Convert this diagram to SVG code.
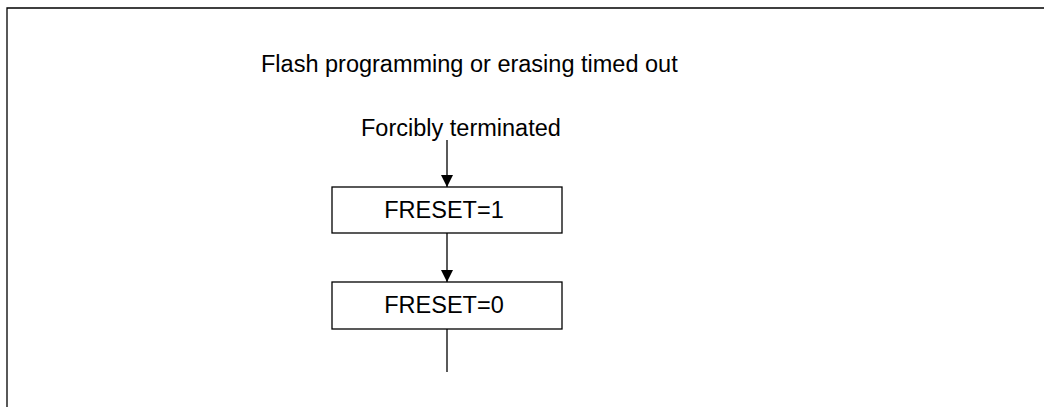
<svg xmlns="http://www.w3.org/2000/svg" width="1044" height="407" viewBox="0 0 1044 407">
<defs>
<style>
text{font-family:"Liberation Sans",Arial,sans-serif;font-size:23.5px;fill:#000}
.box{fill:#fff;stroke:#000;stroke-width:1.3}
.ln{stroke:#000;stroke-width:1.3;fill:none}
</style>
<marker id="ah" viewBox="0 0 12 12" refX="12" refY="6" markerWidth="12" markerHeight="12" markerUnits="userSpaceOnUse" orient="auto">
<path d="M0,0 L12,6 L0,12 Z" fill="#000"/>
</marker>
</defs>
<rect width="1044" height="407" fill="#fff"/>
<path class="ln" d="M7,420 V8 H1060" stroke-width="1.5"/>
<text x="261" y="72">Flash programming or erasing timed out</text>
<g id="start"><text x="361" y="136">Forcibly terminated</text></g>
<g id="n1"><rect class="box" x="332" y="187" width="230" height="46"/><text x="444" y="218" text-anchor="middle">FRESET=1</text></g>
<g id="n2"><rect class="box" x="332" y="282" width="230" height="47"/><text x="444" y="313" text-anchor="middle">FRESET=0</text></g>
<g id="connectors">
<line class="ln" x1="447" y1="140" x2="447" y2="187" marker-end="url(#ah)"/>
<line class="ln" x1="447" y1="233" x2="447" y2="282" marker-end="url(#ah)"/>
<line class="ln" x1="447" y1="329" x2="447" y2="372"/>
</g>
</svg>
